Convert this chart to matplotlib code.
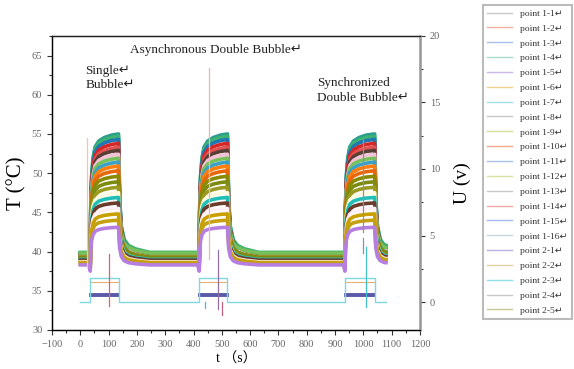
#!/usr/bin/env python3
"""Bubble heating test: temperature of the probe points and drive voltage vs time."""

import matplotlib

matplotlib.use("Agg")
import matplotlib.pyplot as plt
from matplotlib.lines import Line2D
from matplotlib.ticker import MultipleLocator

plt.rcParams["font.family"] = ["Liberation Serif", "DejaVu Sans", "Noto Sans CJK SC"]

# heating events (s): single, asynchronous double, synchronized double bubble
EVENT_START = [35, 420, 935]
EVENT_END = [135, 520, 1040]
T_FIRST, T_LAST = 0, 1080

# shared shape of one heating pulse
# (seconds after the start / after the end, fraction of the full rise)
RISE_DT = [0, 2, 5, 10, 17, 30, 50, 75]
RISE_FRAC = [-0.05, 0.4, 0.65, 0.8, 0.89, 0.94, 0.97, 0.99]
DECAY_DT = [0, 4, 10, 20, 35, 60, 110]
DECAY_FRAC = [1.0, 0.45, 0.22, 0.11, 0.06, 0.03, 0.0]
DIP_T = 0.8  # small dip just before heating starts

# per-trace resting and plateau temperature (°C), top to bottom
T_PLATEAU = [55.0, 54.7, 54.3, 53.8, 53.3, 52.9, 52.4, 51.9, 51.4, 50.9, 50.3,
             49.6, 48.9, 48.2, 47.5, 46.9, 46.2, 45.5, 44.8, 44.0, 43.1]
T_BASE = [39.8, 39.9, 39.6, 39.5, 39.4, 39.7, 39.3, 39.8, 39.2, 39.1, 39.0,
          39.3, 39.2, 39.0, 38.9, 39.0, 38.9, 38.7, 38.6, 38.5, 38.3]
TRACE_COLORS = ["#2a9d8f", "#3cb371", "#1f77b4", "#d62728", "#e35050", "#5a3e36",
                "#f4c2d7", "#77c05a", "#3aa0c8", "#ff7f0e", "#e8670c", "#8a8a00",
                "#7d8b10", "#9a9a20", "#fffbe0", "#1fbfb8", "#6b3b2b", "#fff0f5",
                "#c9a000", "#c5a010", "#b57ee0"]

# drive voltage levels (V) during heating; only the last trace shows its rest level
U_LEVELS = [0.5, 1.5, 1.8]
U_COLORS = ["#5a5aa8", "#e8b070", "#7fd8e0"]
U_WIDTHS = [2.8, 0.8, 1.0]
U_SHOW_REST = [False, False, True]

# single-sample glitches: time, low, high, axis ("T" or "U"), colour
SPIKE_T = [25, 455, 998, 100, 440, 487, 500, 1009, 998]
SPIKE_LO = [38.0, 39.0, 42.5, -0.3, -0.45, -0.5, -1.0, -0.4, 3.7]
SPIKE_HI = [54.5, 63.4, 54.5, 3.6, 0.0, 3.9, 0.0, 4.1, 4.8]
SPIKE_AXIS = ["T", "T", "T", "U", "U", "U", "U", "U", "U"]
SPIKE_COLORS = ["#f0c8a8", "#e0bcb0", "#909098", "#e06070", "#40c0d0",
                "#9070a0", "#c06080", "#40c0d0", "#9090a0"]

LEGEND_LABELS = ([f"point 1-{i}\u21b5" for i in range(1, 17)]
                 + [f"point 2-{i}\u21b5" for i in range(1, 6)])
LEGEND_COLORS = ["#c8c8c8", "#f0b0a0", "#a8c0e8", "#a8dcd0", "#c8b8e8", "#f0d090",
                 "#a0e0e8", "#c8c8c8", "#d8e0a0", "#f0a890", "#a8c0e8", "#d8e0a0",
                 "#c8c8c8", "#f0a8a8", "#a8b8f0", "#c8d8e0", "#b8b0e8", "#e0d0a0",
                 "#90e0e8", "#c8c8c8", "#c8c890"]


def temperature_trace(base, top):
    ts, ys = [T_FIRST], [base]
    for s, e in zip(EVENT_START, EVENT_END):
        ts += [s - 5]
        ys += [base]
        ts += [s + d for d in RISE_DT]
        ys += [base + f * (top - base) if f > 0 else base - DIP_T for f in RISE_FRAC]
        ts += [e + d for d in DECAY_DT]
        ys += [base + f * (top - base) for f in DECAY_FRAC]
    keep = [(t, y) for t, y in zip(ts, ys) if t <= T_LAST]
    ts = [t for t, _ in keep] + [T_LAST]
    ys = [y for _, y in keep]
    # last pulse is cut off during the decay
    ys.append(ys[-1])
    return ts, ys


fig = plt.figure(figsize=(5.74, 3.69), dpi=100)
ax = fig.add_axes([0.0906, 0.1057, 0.641, 0.797])
ax2 = ax.twinx()

for base, top, c in zip(T_BASE, T_PLATEAU, TRACE_COLORS):
    ts, ys = temperature_trace(base, top)
    ax.plot(ts, ys, color=c, lw=2.6, solid_joinstyle="round")

for level, c, w, rest in zip(U_LEVELS, U_COLORS, U_WIDTHS, U_SHOW_REST):
    if rest:
        ts, ys = [T_FIRST], [0.0]
        for s, e in zip(EVENT_START, EVENT_END):
            ts += [s, s, e, e]
            ys += [0.0, level, level, 0.0]
        ts.append(T_LAST)
        ys.append(0.0)
        ax2.plot(ts, ys, color=c, lw=w)
    else:
        for s, e in zip(EVENT_START, EVENT_END):
            ax2.plot([s + 3, e - 3], [level, level], color=c, lw=w)

for t, lo, hi, which, c in zip(SPIKE_T, SPIKE_LO, SPIKE_HI, SPIKE_AXIS, SPIKE_COLORS):
    target = ax if which == "T" else ax2
    target.plot([t, t], [lo, hi], color=c, lw=0.9)

ax.set_xlim(-100, 1200)
ax.set_ylim(30, 67.5)
ax2.set_ylim(-2.1, 20)
ax.xaxis.set_major_locator(MultipleLocator(100))
ax.xaxis.set_minor_locator(MultipleLocator(50))
ax.yaxis.set_major_locator(MultipleLocator(5))
ax.yaxis.set_minor_locator(MultipleLocator(2.5))
ax2.yaxis.set_major_locator(MultipleLocator(5))
ax2.yaxis.set_minor_locator(MultipleLocator(2.5))

for a in (ax, ax2):
    a.tick_params(which="both", direction="out", colors="#333333",
                  labelcolor="#666666", labelsize=7.5, width=0.8)
    a.tick_params(which="major", length=3.5)
    a.tick_params(which="minor", length=2)
for side in ("left", "bottom", "top"):
    ax.spines[side].set_color("#222222")
    ax.spines[side].set_linewidth(1.0)
ax2.spines["right"].set_color("#999999")
ax2.spines["right"].set_linewidth(1.8)
ax2.spines["top"].set_color("#222222")

ax.set_ylabel("T (°C)", fontsize=15, labelpad=4)
ax2.set_ylabel("U (v)", fontsize=14, labelpad=10)
ax.set_xlabel("t （s）", fontsize=10, labelpad=3,
              family=["Liberation Serif", "Noto Sans CJK SC"])

text_kw = dict(fontsize=9.5, color="#222222", ha="left", va="top", linespacing=1.25)
ax.text(17, 63.8, "Single\u21b5\nBubble\u21b5", **text_kw)
ax.text(175, 66.5, "Asynchronous Double Bubble\u21b5", **text_kw)
ax.text(836, 62.2, "Synchronized\nDouble Bubble\u21b5", **text_kw)

handles = [Line2D([], [], color=c, lw=1.0) for c in LEGEND_COLORS]
leg = fig.legend(handles, LEGEND_LABELS, loc="upper left",
                 bbox_to_anchor=(483 / 574, 364 / 369), borderaxespad=0,
                 fontsize=6.8, handlelength=2.6, labelspacing=0.66,
                 handletextpad=0.9, borderpad=0.45, fancybox=False)
leg.get_frame().set_edgecolor("#aaaaaa")
leg.get_frame().set_linewidth(1.5)
for txt in leg.get_texts():
    txt.set_color("#333333")

fig.savefig("out.png", dpi=100)
print("wrote out.png")
